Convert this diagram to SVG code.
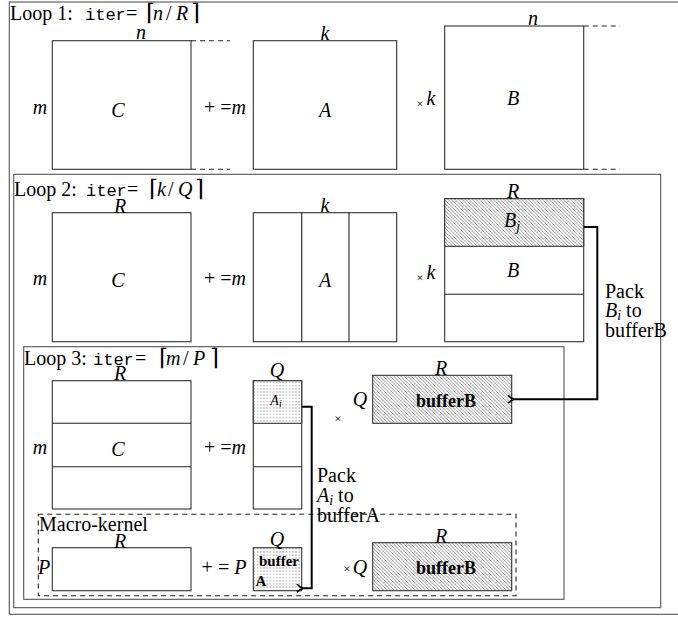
<svg xmlns="http://www.w3.org/2000/svg" width="678" height="617" viewBox="0 0 678 617">
<style>
text{font-size:20px;fill:#000}
.m{font-style:italic}
.tt{font-family:"Liberation Mono","DejaVu Sans Mono",monospace;font-size:17px}
.br{font-size:23px}
.b{font-weight:bold}
.mid{text-anchor:middle}
.sm{font-size:13px}
.frame{fill:none;stroke:#555;stroke-width:1.1}
.mat{fill:#fff;stroke:#333;stroke-width:1.1}
.div{stroke:#222;stroke-width:1.1}
.dash{stroke:#222;stroke-width:1.1;stroke-dasharray:5 4;fill:none}
.pack{fill:none;stroke:#000;stroke-width:2}
.hatch{fill:url(#hatch);stroke:#333;stroke-width:1.1}
.dots{fill:url(#dots);stroke:#333;stroke-width:1.1}
</style>
<defs>
<pattern id="hatch" patternUnits="userSpaceOnUse" width="3.5" height="3.5">
<rect width="3.5" height="3.5" fill="#fff"/>
<path d="M-1,-1 L4.5,4.5 M-1,2.5 L1,4.5 M2.5,-1 L4.5,1" stroke="#555" stroke-width="0.65"/>
</pattern>
<pattern id="dots" patternUnits="userSpaceOnUse" width="3.2" height="3.2">
<rect width="3.2" height="3.2" fill="#fff"/>
<circle cx="1.6" cy="1.6" r="0.55" fill="#555"/>
</pattern>
<marker id="arr" markerWidth="10" markerHeight="10" refX="1" refY="5" orient="auto" markerUnits="userSpaceOnUse">
<path d="M8,1 Q5,4.5 1,5 Q5,5.5 8,9" fill="none" stroke="#000" stroke-width="1.5"/>
</marker>
</defs>

<g font-family="'Liberation Serif', 'Tinos', 'Times New Roman', 'DejaVu Serif', serif">
<g id="frames">
<rect id="loop1" x="9.3" y="2" width="700" height="612.3" class="frame"/>
<rect id="loop2" x="13.7" y="174.3" width="647" height="433.4" class="frame"/>
<rect id="loop3" x="23.7" y="346.7" width="540.3" height="252.6" class="frame"/>
<rect id="macro" x="38.3" y="514.3" width="477.7" height="81.4" class="dash"/>
</g>

<g id="loop1-label"><text x="10" y="20">Loop 1:<tspan class="tt" x="85">iter</tspan><tspan x="126">=</tspan><tspan class="br" x="146">⌈</tspan><tspan class="m" x="153">n</tspan><tspan x="166">/</tspan><tspan class="m" x="176">R</tspan><tspan class="br" x="191">⌉</tspan></text></g>
<g id="loop2-label"><text x="14" y="195.5">Loop 2:<tspan class="tt" x="86">iter</tspan><tspan x="127">=</tspan><tspan class="br" x="149">⌈</tspan><tspan class="m" x="157">k</tspan><tspan x="168">/</tspan><tspan class="m" x="178">Q</tspan><tspan class="br" x="195">⌉</tspan></text></g>
<g id="loop3-label"><text x="24" y="365">Loop 3:<tspan class="tt" x="93">iter</tspan><tspan x="135">=</tspan><tspan class="br" x="159">⌈</tspan><tspan class="m" x="166">m</tspan><tspan x="183">/</tspan><tspan class="m" x="193">P</tspan><tspan class="br" x="210">⌉</tspan></text></g>
<g id="macro-label"><text x="39" y="530.5">Macro-kernel</text></g>

<!-- Loop 1 -->
<g id="l1-C">
<rect x="52.3" y="40.7" width="138.7" height="128.6" class="mat"/>
<line x1="191" y1="40.7" x2="230" y2="40.7" class="dash"/>
<line x1="191" y1="169.3" x2="230" y2="169.3" class="dash"/>
<text x="141" y="39" class="m mid">n</text>
<text x="40" y="114" class="m mid">m</text>
<text x="118" y="116.5" class="m mid">C</text>
</g>
<g id="l1-op"><text x="225" y="114" class="mid">+ =<tspan class="m">m</tspan></text></g>
<g id="l1-A">
<rect x="253.3" y="40.7" width="143.4" height="128.6" class="mat"/>
<text x="325" y="39.5" class="m mid">k</text>
<text x="325" y="116.5" class="m mid">A</text>
</g>
<g id="l1-x"><text x="420" y="108" class="mid sm">×</text><text x="431" y="105" class="m mid">k</text></g>
<g id="l1-B">
<rect x="444.7" y="26" width="139" height="143.3" class="mat"/>
<line x1="583.7" y1="26" x2="620" y2="26" class="dash"/>
<line x1="583.7" y1="169.3" x2="620" y2="169.3" class="dash"/>
<text x="533" y="24.5" class="m mid">n</text>
<text x="513" y="105" class="m mid">B</text>
</g>

<!-- Loop 2 -->
<g id="l2-C">
<rect x="52.3" y="212.7" width="138.7" height="129" class="mat"/>
<text x="120" y="213" class="m mid">R</text>
<text x="40" y="285" class="m mid">m</text>
<text x="118" y="286.5" class="m mid">C</text>
</g>
<g id="l2-op"><text x="225" y="285" class="mid">+ =<tspan class="m">m</tspan></text></g>
<g id="l2-A">
<rect x="253.3" y="212.7" width="143.4" height="129" class="mat"/>
<line x1="301.7" y1="212.7" x2="301.7" y2="341.7" class="div"/>
<line x1="349" y1="212.7" x2="349" y2="341.7" class="div"/>
<text x="325" y="212" class="m mid">k</text>
<text x="325" y="286.5" class="m mid">A</text>
</g>
<g id="l2-x"><text x="420" y="282" class="mid sm">×</text><text x="431" y="278.5" class="m mid">k</text></g>
<g id="l2-B">
<rect x="444.7" y="198.7" width="139" height="143" class="mat"/>
<rect x="444.7" y="198.7" width="139" height="47.6" class="hatch"/>
<line x1="444.7" y1="294.3" x2="583.7" y2="294.3" class="div"/>
<text x="513" y="198" class="m mid">R</text>
<text x="512" y="227" class="m mid">B<tspan class="m" style="font-size:14px" dy="4">j</tspan></text>
<text x="513" y="277" class="m mid">B</text>
</g>

<!-- Loop 3 -->
<g id="l3-C">
<rect x="52.3" y="380.7" width="138.7" height="128.3" class="mat"/>
<line x1="52.3" y1="423.3" x2="191" y2="423.3" class="div"/>
<line x1="52.3" y1="466.7" x2="191" y2="466.7" class="div"/>
<text x="120" y="380" class="m mid">R</text>
<text x="40" y="454" class="m mid">m</text>
<text x="118" y="455.5" class="m mid">C</text>
</g>
<g id="l3-op"><text x="225" y="454" class="mid">+ =<tspan class="m">m</tspan></text></g>
<g id="l3-A">
<rect x="253.3" y="380.7" width="48.4" height="128.3" class="mat"/>
<rect x="253.3" y="380.7" width="48.4" height="42.6" class="dots"/>
<line x1="253.3" y1="466.7" x2="301.7" y2="466.7" class="div"/>
<text x="277" y="377" class="m mid">Q</text>
<text x="276" y="405" class="m mid" style="font-size:14px">A<tspan style="font-size:10px" dy="2">i</tspan></text>
</g>
<g id="l3-x"><text x="338" y="423" class="mid sm">×</text></g>
<g id="l3-bufB">
<rect x="372.7" y="375.3" width="139" height="48" class="hatch"/>
<text x="360" y="406" class="m mid">Q</text>
<text x="441" y="375" class="m mid">R</text>
<text x="446" y="406.5" class="b mid" style="font-size:18px">bufferB</text>
</g>

<!-- Macro-kernel -->
<g id="mk-C">
<rect x="52.3" y="547.7" width="138.7" height="43" class="mat"/>
<text x="120" y="547.5" class="m mid">R</text>
<text x="44" y="574" class="m mid">P</text>
</g>
<g id="mk-op"><text x="224" y="574" class="mid">+ = <tspan class="m">P</tspan></text></g>
<g id="mk-bufA">
<rect x="253.3" y="547.7" width="48.4" height="43" class="dots"/>
<text x="277" y="546" class="m mid">Q</text>
<text x="279" y="565.5" class="b mid" style="font-size:15px">buffer</text>
<text x="255.5" y="586" class="b" style="font-size:15px">A</text>
</g>
<g id="mk-x"><text x="347" y="573" class="mid sm">×</text><text x="360" y="573.5" class="m mid">Q</text></g>
<g id="mk-bufB">
<rect x="372.7" y="542.7" width="139" height="48" class="hatch"/>
<text x="441" y="542.5" class="m mid">R</text>
<text x="446" y="573.5" class="b mid" style="font-size:18px">bufferB</text>
</g>

<!-- Connectors -->
<g id="connectors">
<polyline points="584,227 597.3,227 597.3,399.3 515,399.3" class="pack" marker-end="url(#arr)"/>
<polyline points="301.7,406.7 311.7,406.7 311.7,588.3 304,588.3" class="pack" marker-end="url(#arr)"/>
</g>
<g id="pack-labels">
<text x="605" y="297.5">Pack</text>
<text x="605" y="317"><tspan class="m">B</tspan><tspan class="m" style="font-size:14px" dy="3">i</tspan><tspan dy="-3"> to</tspan></text>
<text x="605" y="337">bufferB</text>
<text x="317" y="481.5">Pack</text>
<text x="317" y="501.5"><tspan class="m">A</tspan><tspan class="m" style="font-size:14px" dy="3">i</tspan><tspan dy="-3"> to</tspan></text>
<text x="317" y="521.5">bufferA</text>
</g>
</g>
</svg>
